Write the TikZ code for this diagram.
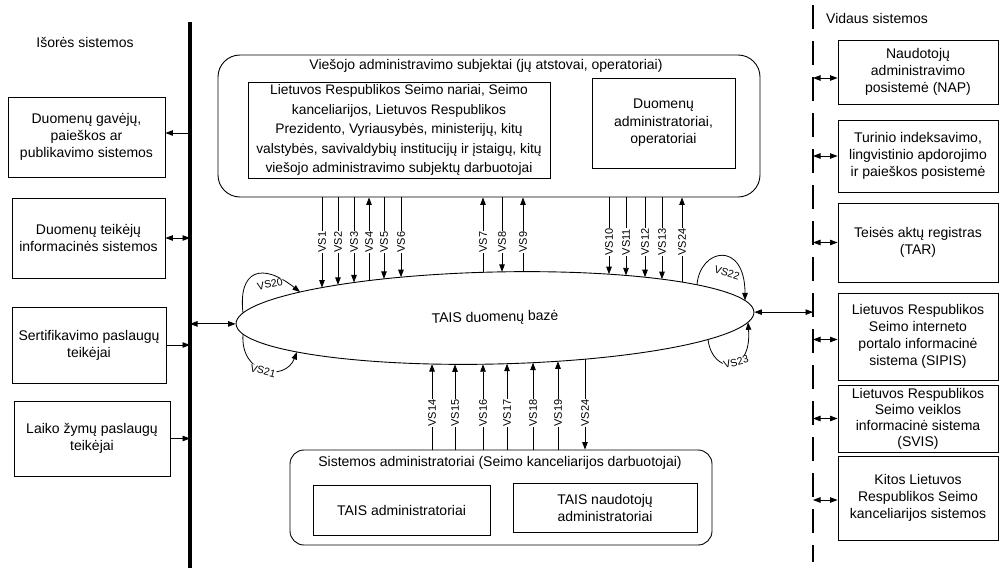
\documentclass[tikz,border=0pt]{standalone}
\usepackage{fontspec}
\setmainfont{Liberation Sans}
\usetikzlibrary{shapes.geometric,arrows.meta,intersections}
\begin{document}
\begin{tikzpicture}[x=1pt,y=-1pt,
  vt/.tip={Triangle[length=7.5pt,width=5.5pt]},
  txt/.style={font=\fontsize{14}{17}\selectfont, align=center, inner sep=0pt},
  sbox/.style={txt, draw, line width=0.9pt},
  con/.style={line width=0.8pt},
  arr/.style={con, -vt},
  rarr/.style={con, vt-},
  darr/.style={con, vt-vt},
  toE/.style={arr},
  toB/.style={rarr},
  vslab/.style={fill=white, inner sep=1pt, rotate=90, font=\fontsize{11}{12}\selectfont},
  lplab/.style={fill=white, inner sep=0.3pt, font=\fontsize{10.5}{11}\selectfont}
]
\useasboundingbox (0,0) rectangle (1001,568);

% boundary lines
\coordinate (lt) at (190,22);
\coordinate (lb) at (190,568);
\draw[line width=3.5pt] (lt) -- (lb);
\coordinate (rt) at (813,5);
\coordinate (rb) at (813,562);
\draw[line width=2.6pt, dash pattern=on 24pt off 12pt] (rt) -- (rb);

% headings
\node[txt] (hout) at (85,42) {Išorės sistemos};
\node[txt] (hin) at (877,18) {Vidaus sistemos};

% external systems
\node[sbox, minimum width=157pt, minimum height=80pt] (L1) at (86.5,137) {Duomenų gavėjų,\\ paieškos ar\\ publikavimo sistemos};
\node[sbox, minimum width=153pt, minimum height=80pt] (L2) at (88.5,238) {Duomenų teikėjų\\ informacinės sistemos};
\node[sbox, minimum width=154pt, minimum height=76pt] (L3) at (89,345) {Sertifikavimo paslaugų\\ teikėjai};
\node[sbox, minimum width=156pt, minimum height=75pt] (L4) at (92,438.5) {Laiko žymų paslaugų\\ teikėjai};

\draw[arr] ([yshift=4pt]L1.east -| lt) -- ([yshift=4pt]L1.east);
\draw[darr] (L2.east -| lt) -- (L2.east);
\draw[arr] (L3.east) -- (L3.east -| lt);
\draw[arr] (L4.east) -- (L4.east -| lt);

% internal systems
\node[sbox, minimum width=160pt, minimum height=64pt] (R1) at (918,72) {Naudotojų\\ administravimo\\ posistemė (NAP)};
\node[sbox, minimum width=160pt, minimum height=72pt] (R2) at (918,156) {Turinio indeksavimo,\\ lingvistinio apdorojimo\\ ir paieškos posistemė};
\node[sbox, minimum width=160pt, minimum height=79pt] (R3) at (918,242.5) {Teisės aktų registras\\ (TAR)};
\node[sbox, minimum width=160pt, minimum height=87pt] (R4) at (918,336.5) {Lietuvos Respublikos\\ Seimo interneto\\ portalo informacinė\\ sistema (SIPIS)};
\node[sbox, minimum width=160pt, minimum height=67pt, font=\fontsize{14}{16}\selectfont] (R5) at (918,418.5) {Lietuvos Respublikos\\ Seimo veiklos\\ informacinė sistema\\ (SVIS)};
\node[sbox, minimum width=160pt, minimum height=84pt] (R6) at (918,498) {Kitos Lietuvos\\ Respublikos Seimo\\ kanceliarijos sistemos};

\draw[darr] ([yshift=-6pt]R1.west -| rt) -- ([yshift=-6pt]R1.west);
\draw[darr] (R2.west -| rt) -- (R2.west);
\draw[darr] (R3.west -| rt) -- (R3.west);
\draw[darr] ([yshift=-3pt]R4.west -| rt) -- ([yshift=-3pt]R4.west);
\draw[darr] (R5.west -| rt) -- (R5.west);
\draw[darr] ([yshift=-2pt]R6.west -| rt) -- ([yshift=-2pt]R6.west);

% public administration group
\node[draw, line width=0.9pt, rounded corners=22pt, minimum width=542pt, minimum height=142pt, inner sep=0pt] (top) at (489,126) {};
\node[txt] (toptitle) at (486,66) {Viešojo administravimo subjektai (jų atstovai, operatoriai)};
\node[sbox, minimum width=302pt, minimum height=96pt, font=\fontsize{13.8}{19.5}\selectfont] (A1) at (399,130) {Lietuvos Respublikos Seimo nariai, Seimo\\ kanceliarijos, Lietuvos Respublikos\\ Prezidento, Vyriausybės, ministerijų, kitų\\ valstybės, savivaldybių institucijų ir įstaigų, kitų\\ viešojo administravimo subjektų darbuotojai};
\node[sbox, minimum width=143pt, minimum height=90pt, font=\fontsize{14}{17.5}\selectfont] (A2) at (663.5,123) {Duomenų\\ administratoriai,\\ operatoriai};

% system administrators group
\node[draw, line width=0.9pt, rounded corners=14pt, minimum width=422pt, minimum height=95pt, inner sep=0pt] (bot) at (501,497.5) {};
\node[txt] (bottitle) at (500,463) {Sistemos administratoriai (Seimo kanceliarijos darbuotojai)};
\node[sbox, minimum width=177pt, minimum height=50pt] (B1) at (401.5,510) {TAIS administratoriai};
\node[sbox, minimum width=184pt, minimum height=49pt] (B2) at (605,507.5) {TAIS naudotojų\\ administratoriai};

% database
\node[draw, ellipse, line width=0.9pt, minimum width=518pt, minimum height=92pt, inner sep=0pt, rotate=1.3, txt] (db) at (495,318) {TAIS duomenų bazė};
\path[name path=dbp, rotate around={1.3:(495,318)}] (495,318) ellipse [x radius=259, y radius=46];

\draw[darr] (db.west -| lt) -- (db.west);
\draw[darr] (db.east) -- (db.east -| rt);

% vertical flows, top
\foreach \x/\l/\d in {322/VS1/toE,338/VS2/toE,354/VS3/toE,369/VS4/toB,384/VS5/toE,401/VS6/toE,483/VS7/toB,502/VS8/toE,523/VS9/toB,609/VS10/toE,626/VS11/toE,645/VS12/toE,662/VS13/toE,682/VS24/toB}{
  \path[name path=vl] (\x,150) -- (\x,450);
  \path[name intersections={of=vl and dbp, sort by=vl, name=I}];
  \draw[\d] (top.south -| I-1) -- (I-1);
  \node[vslab] at (\x,242) {\l};
}
% vertical flows, bottom
\foreach \x/\l/\d in {432/VS14/toE,455/VS15/toE,483/VS16/toE,507/VS17/toE,533/VS18/toE,558/VS19/toE,585/VS24/toB}{
  \path[name path=vl] (\x,150) -- (\x,450);
  \path[name intersections={of=vl and dbp, sort by=vl, name=I}];
  \draw[\d] (bot.north -| I-2) -- (I-2);
  \node[vslab] at (\x,413) {\l};
}

% self loops
\foreach \x/\n in {243/pa,300/pb,297/pg,697/pc,745/pd,708/pe,748/pf}{
  \path[name path=vl] (\x,150) -- (\x,450);
  \path[name intersections={of=vl and dbp, sort by=vl, name=\n}];
}
\draw[arr] (pa-1) .. controls (238,270) and (262,262) .. (pb-1);
\node[lplab, rotate=12] (l20) at (270,284) {VS20};
\draw[arr] (pa-2) .. controls (240,375) and (285,382) .. (pg-2);
\node[lplab, rotate=-15] (l21) at (263,371) {VS21};
\draw[arr] (pc-1) .. controls (700,248) and (745,240) .. (pd-1);
\node[lplab, rotate=-18] (l22) at (727,273) {VS22};
\draw[arr] (pe-2) .. controls (712,374) and (752,376) .. (pf-2);
\node[lplab, rotate=15] (l23) at (736,362) {VS23};
\end{tikzpicture}
\end{document}
